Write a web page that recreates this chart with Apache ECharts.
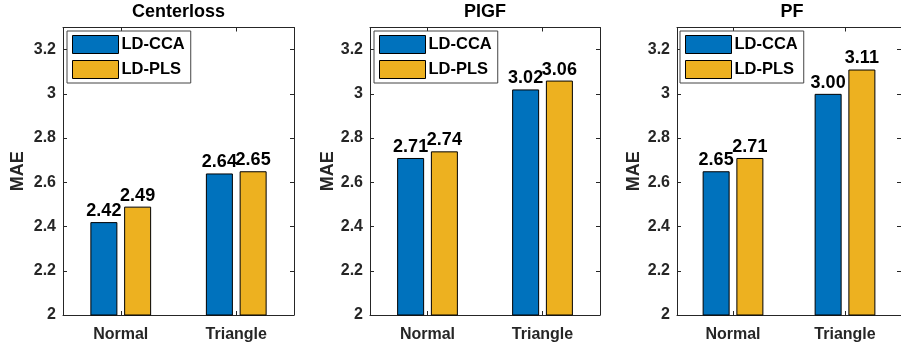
<!DOCTYPE html>
<html>
<head>
<meta charset="utf-8">
<title>MAE comparison</title>
<script src="https://cdn.jsdelivr.net/npm/echarts@6/dist/echarts.min.js"></script>
<style>
  html, body { margin: 0; padding: 0; background: #ffffff; }
  #chart { width: 901px; height: 349px; }
</style>
</head>
<body>
<div id="chart"></div>
<script>
// Categories and tick settings
const categories = ['Normal', 'Triangle'];
const seriesNames = ['LD-CCA', 'LD-PLS'];
const panelTitles = ['Centerloss', 'PIGF', 'PF'];
const yMin = 2;
const yMax = 3.3;
const yStep = 0.2;

// MAE values per method
const centerlossCCA = [2.42, 2.64];
const centerlossPLS = [2.49, 2.65];
const pigfCCA = [2.71, 3.02];
const pigfPLS = [2.74, 3.06];
const pfCCA = [2.65, 3.00];
const pfPLS = [2.71, 3.11];

const panelData = [
  [centerlossCCA, centerlossPLS],
  [pigfCCA, pigfPLS],
  [pfCCA, pfPLS]
];

// Layout of the three panels (pixels)
const panels = [
  { left: 63, width: 231, nameGap: 36, legendLeft: 67 },
  { left: 370, width: 230, nameGap: 33, legendLeft: 374 },
  { left: 677, width: 230, nameGap: 34, legendLeft: 680 }
];
const gridTop = 27.5;
const gridHeight = 287.5;

const FONT = '"Liberation Sans", Arial, Helvetica, sans-serif';
const AXIS_COLOR = '#262626';
const colors = ['#0072BD', '#EDB120'];

const grids = [], xAxes = [], yAxes = [], series = [], titles = [], legends = [];

panels.forEach((p, i) => {
  grids.push({ left: p.left, top: gridTop, width: p.width, height: gridHeight, containLabel: false });

  titles.push({
    text: panelTitles[i],
    left: p.left + p.width / 2,
    top: 3,
    textAlign: 'center',
    padding: 0,
    textStyle: { fontFamily: FONT, fontSize: 18, fontWeight: 'bold', color: '#000000' }
  });

  legends.push({
    data: seriesNames,
    orient: 'vertical',
    left: p.legendLeft,
    top: 31,
    itemWidth: 46,
    itemHeight: 18,
    itemGap: 6,
    padding: [4, 6, 4, 5],
    icon: 'rect',
    backgroundColor: '#ffffff',
    borderColor: '#444444',
    borderWidth: 1,
    selectedMode: false,
    itemStyle: { borderWidth: 1, borderColor: '#000000' },
    textStyle: { fontFamily: FONT, fontSize: 16.5, fontWeight: 'bold', color: '#000000', padding: [0, 0, 0, -2] }
  });

  // bottom category axis with labels
  xAxes.push({
    type: 'category',
    gridIndex: i,
    data: categories,
    position: 'bottom',
    axisLine: { show: true, lineStyle: { color: AXIS_COLOR, width: 1 } },
    axisTick: { show: true, inside: true, alignWithLabel: true, length: 4, lineStyle: { color: AXIS_COLOR } },
    axisLabel: { margin: 12, fontFamily: FONT, fontSize: 16, fontWeight: 'bold', color: AXIS_COLOR },
    splitLine: { show: false }
  });
  // top mirror axis (box edge + ticks)
  xAxes.push({
    type: 'category',
    gridIndex: i,
    data: categories,
    position: 'top',
    axisLine: { show: true, lineStyle: { color: AXIS_COLOR, width: 1 } },
    axisTick: { show: true, inside: true, alignWithLabel: true, length: 4, lineStyle: { color: AXIS_COLOR } },
    axisLabel: { show: false },
    splitLine: { show: false }
  });

  // left value axis with labels
  yAxes.push({
    type: 'value',
    gridIndex: i,
    position: 'left',
    min: yMin,
    max: yMax,
    interval: yStep,
    name: 'MAE',
    nameLocation: 'middle',
    nameRotate: 90,
    nameGap: p.nameGap,
    nameTextStyle: { fontFamily: FONT, fontSize: 18, fontWeight: 'bold', color: AXIS_COLOR },
    axisLine: { show: true, lineStyle: { color: AXIS_COLOR, width: 1 } },
    axisTick: { show: true, inside: true, length: 4, lineStyle: { color: AXIS_COLOR } },
    axisLabel: { margin: 7, showMaxLabel: false, fontFamily: FONT, fontSize: 16, fontWeight: 'bold', color: AXIS_COLOR },
    splitLine: { show: false }
  });
  // right mirror axis (box edge + ticks)
  yAxes.push({
    type: 'value',
    gridIndex: i,
    position: 'right',
    min: yMin,
    max: yMax,
    interval: yStep,
    axisLine: { show: true, lineStyle: { color: AXIS_COLOR, width: 1 } },
    axisTick: { show: true, inside: true, length: 4, lineStyle: { color: AXIS_COLOR } },
    axisLabel: { show: false },
    splitLine: { show: false }
  });

  panelData[i].forEach((vals, s) => {
    series.push({
      name: seriesNames[s],
      type: 'bar',
      xAxisIndex: i * 2,
      yAxisIndex: i * 2,
      data: vals,
      barWidth: 27,
      barGap: '25%',
      itemStyle: { color: colors[s], borderColor: '#000000', borderWidth: 1 },
      label: {
        show: true,
        position: 'top',
        distance: 2,
        formatter: (d) => d.value.toFixed(2),
        fontFamily: FONT,
        fontSize: 18,
        fontWeight: 'bold',
        color: '#000000'
      },
      emphasis: { disabled: true },
      animation: false
    });
  });
});

const chart = echarts.init(document.getElementById('chart'), null, { renderer: 'canvas' });
chart.setOption({
  backgroundColor: '#ffffff',
  animation: false,
  title: titles,
  legend: legends,
  grid: grids,
  xAxis: xAxes,
  yAxis: yAxes,
  series: series
});
</script>
</body>
</html>
